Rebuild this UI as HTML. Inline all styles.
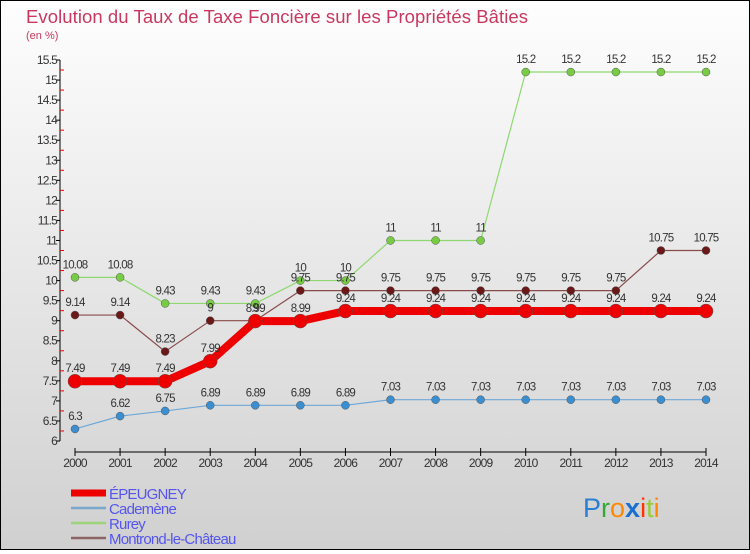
<!DOCTYPE html>
<html><head><meta charset="utf-8">
<style>
html,body{margin:0;padding:0;}
body{width:750px;height:550px;overflow:hidden;font-family:"Liberation Sans",sans-serif;}
#wrap{position:relative;width:748px;height:548px;border:1px solid #000;background:linear-gradient(#fefefe,#d0d0d0);}
</style></head>
<body>
<div id="wrap">
<svg id="chart" width="748" height="548" xmlns="http://www.w3.org/2000/svg">
<text x="25" y="22" font-size="18.5" fill="#c8385f" textLength="502">Evolution du Taux de Taxe Foncière sur les Propriétés Bâties</text>
<text x="25" y="38" font-size="11" fill="#c8385f">(en %)</text>
<g id="axes"></g>
<g id="series"></g>
<g id="legend"></g>
<text x="582" y="516" font-size="27" fill="#2a7fd4">P<tspan fill="#3a3">r</tspan><tspan fill="#f80">o</tspan><tspan fill="#1a6fd0" font-weight="bold">x</tspan><tspan fill="#f30">i</tspan><tspan fill="#9c3">t</tspan><tspan fill="#f80">i</tspan></text>
</svg>
</div>
<script>
const years=[2000,2001,2002,2003,2004,2005,2006,2007,2008,2009,2010,2011,2012,2013,2014];
const yTicks=[6,6.5,7,7.5,8,8.5,9,9.5,10,10.5,11,11.5,12,12.5,13,13.5,14,14.5,15,15.5];
const epeugney=[7.49,7.49,7.49,7.99,8.99,8.99,9.24,9.24,9.24,9.24,9.24,9.24,9.24,9.24,9.24];
const cademene=[6.3,6.62,6.75,6.89,6.89,6.89,6.89,7.03,7.03,7.03,7.03,7.03,7.03,7.03,7.03];
const rurey=[10.08,10.08,9.43,9.43,9.43,10,10,11,11,11,15.2,15.2,15.2,15.2,15.2];
const montrond=[9.14,9.14,8.23,9,9,9.75,9.75,9.75,9.75,9.75,9.75,9.75,9.75,10.75,10.75];
const NS="http://www.w3.org/2000/svg";
function X(i){return 74+i*(631/14);}
function Y(v){return 440-(v-6)*(381/9.5);}
function mk(tag,attrs,parent){const e=document.createElementNS(NS,tag);for(const k in attrs)e.setAttribute(k,attrs[k]);parent.appendChild(e);return e;}
const axes=document.getElementById('axes');
let yl=mk('line',{x1:59,y1:Y(15.5),x2:59,y2:Y(6),stroke:'#000','stroke-width':1},axes);


yTicks.forEach((t,k)=>{
  let l=mk('line',{x1:55,x2:59,y1:Y(t),y2:Y(t),stroke:'#000'},axes);
  
  
  if(k<yTicks.length-1){
    let r=mk('line',{x1:59,x2:63,y1:Y(t+0.25),y2:Y(t+0.25),stroke:'#e00'},axes);
    
    
  }
  let tx=mk('text',{x:56,y:Y(t)+4,'text-anchor':'end','font-size':12,fill:'#333','letter-spacing':'-0.8'},axes);
  tx.textContent=String(t);
  
  
});
let xl=mk('line',{x1:X(0),y1:451,x2:X(14),y2:451,stroke:'#000'},axes);


years.forEach((y,i)=>{
  let l=mk('line',{x1:X(i),x2:X(i),y1:447,y2:455,stroke:'#000'},axes);
  
  
  let tx=mk('text',{x:X(i),y:466,'text-anchor':'middle','font-size':12,fill:'#333','letter-spacing':'-0.8'},axes);
  tx.textContent=String(y);
  
  
});
const ser=document.getElementById('series');
function drawSeries(vals,color,dot,width,r,name){
  const g=mk('g',{},ser);
  
  
  let p=mk('polyline',{points:vals.map((v,i)=>X(i)+','+Y(v)).join(' '),fill:'none',stroke:color,'stroke-width':width,'stroke-linejoin':'round'},g);
  
  
  vals.forEach((v,i)=>{
    let c=mk('circle',{cx:X(i),cy:Y(v),r:r,fill:dot,stroke:'#555','stroke-width':0.5},g);
    
    
    let t=mk('text',{x:X(i),y:Y(v)-9,'text-anchor':'middle','font-size':11.5,fill:'#333','letter-spacing':'-0.8'},g);
    t.textContent=String(v);
    
    
  });
}
drawSeries(cademene,'#6fa8d8','#3b8ed0',1.2,4,'cademene');
drawSeries(rurey,'#8fd870','#77cc44',1.2,4,'rurey');
drawSeries(montrond,'#8b4a4a','#6b1818',1.2,4,'montrond');
drawSeries(epeugney,'#ee0000','#ee0000',8,7,'epeugney');
const lg=document.getElementById('legend');
const items=[['ÉPEUGNEY','#ee0000',7],['Cademène','#7aa8cc',2.5],['Rurey','#9bd47a',2.5],['Montrond-le-Château','#8b6464',2.5]];
items.forEach((it,i)=>{
  const y=492+i*15;
  let l=mk('line',{x1:70,x2:105,y1:y,y2:y,stroke:it[1],'stroke-width':it[2]},lg);
  
  
  let t=mk('text',{x:108,y:y+6,'font-size':15,fill:'#5555ee','letter-spacing':'-0.8'},lg);
  t.textContent=it[0];
  
  
});
</script>
</body></html>
